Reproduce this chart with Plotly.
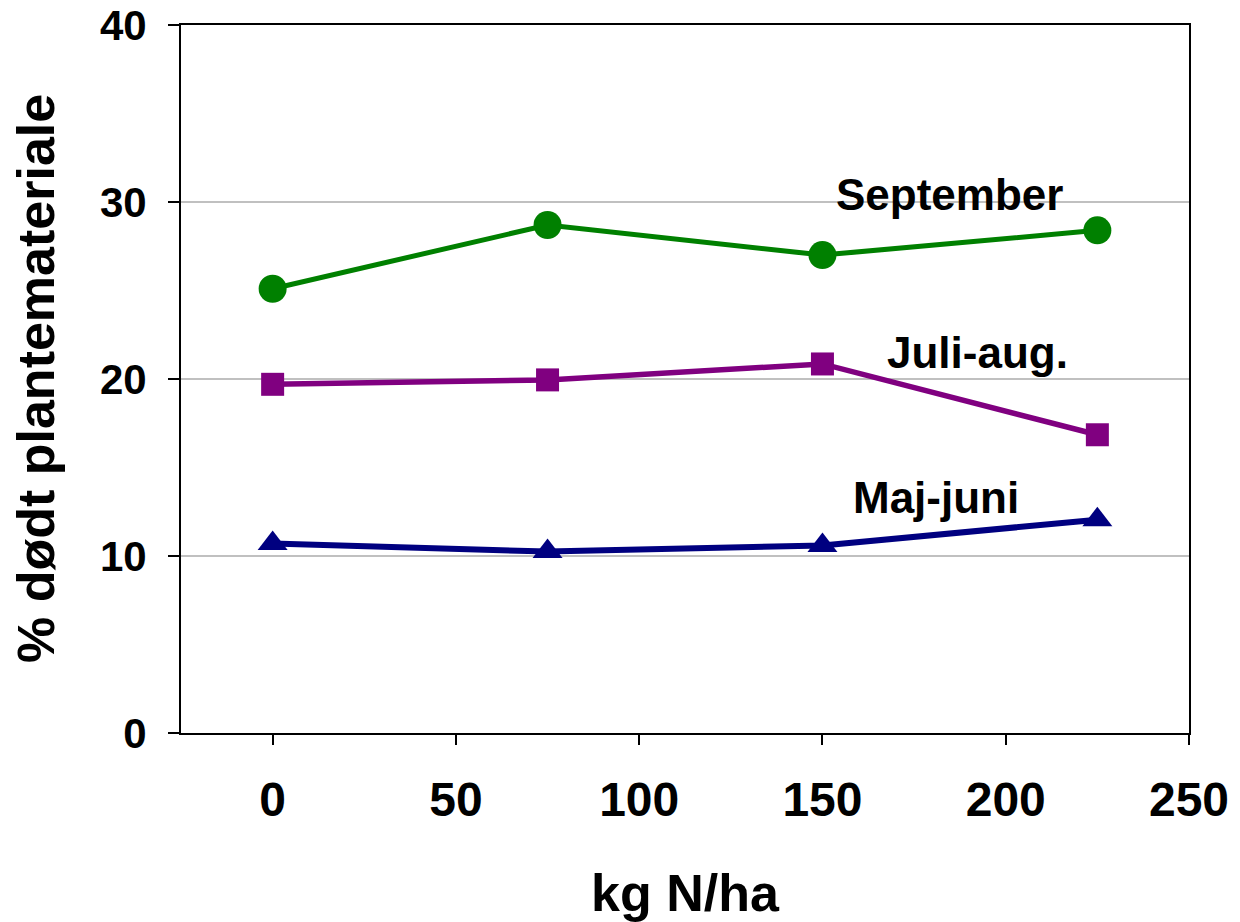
import plotly.graph_objects as go

n_levels = [0, 75, 150, 225]
september = [25.1, 28.7, 27.0, 28.4]
juli_aug = [19.7, 19.95, 20.85, 16.85]
maj_juni = [10.7, 10.25, 10.6, 12.05]

x_ticks = [0, 50, 100, 150, 200, 250]
y_ticks = [0, 10, 20, 30, 40]

FONT = "Liberation Sans, Arial, sans-serif"

fig = go.Figure()
fig.add_trace(go.Scatter(x=n_levels, y=september, mode="lines+markers", name="September",
                         line=dict(color="#008000", width=5),
                         marker=dict(symbol="circle", size=28, color="#008000")))
fig.add_trace(go.Scatter(x=n_levels, y=juli_aug, mode="lines+markers", name="Juli-aug.",
                         line=dict(color="#800080", width=5.5),
                         marker=dict(symbol="square", size=23, color="#800080")))
fig.add_trace(go.Scatter(x=n_levels, y=maj_juni, mode="lines+markers", name="Maj-juni",
                         line=dict(color="#000080", width=6),
                         marker=dict(symbol="triangle-up", size=26, color="#000080")))

labels = [("September", 184.7, 30.4), ("Juli-aug.", 192.3, 21.5), ("Maj-juni", 181.0, 13.3)]
for txt, ax, ay in labels:
    fig.add_annotation(x=ax, y=ay, text="<b>%s</b>" % txt, showarrow=False,
                       font=dict(family=FONT, size=44, color="black"))

# x title and y title as paper annotations for precise placement
fig.add_annotation(x=0.5, y=0, xref="paper", yref="paper", yanchor="middle",
                   yshift=-160, text="<b>kg N/ha</b>", showarrow=False,
                   font=dict(family=FONT, size=52, color="black"))
fig.add_annotation(x=0, y=0.5, xref="paper", yref="paper", xanchor="center",
                   xshift=-145, text="<b>% dødt plantemateriale</b>", showarrow=False,
                   textangle=-90, font=dict(family=FONT, size=52, color="black"))

fig.update_layout(
    width=1240, height=922,
    margin=dict(l=173, r=59, t=17, b=197),
    paper_bgcolor="white", plot_bgcolor="white",
    showlegend=False,
    font=dict(family=FONT, color="black"),
)
fig.update_xaxes(range=[-25, 250], tickvals=x_ticks, ticktext=["<b>%d</b>" % v for v in x_ticks],
                 tickfont=dict(family=FONT, size=48, color="black"),
                 showgrid=False, zeroline=False, automargin=False, ticklabeloverflow="allow",
                 showline=True, linecolor="black", linewidth=2, mirror=True,
                 ticks="outside", ticklen=10, tickwidth=2, tickcolor="black",
                 ticklabelstandoff=13)
fig.update_yaxes(range=[0, 40], tickvals=y_ticks, ticktext=["<b>%d</b>" % v for v in y_ticks],
                 tickfont=dict(family=FONT, size=42, color="black"),
                 showgrid=True, gridcolor="#c0c0c0", gridwidth=2, zeroline=False, automargin=False,
                 ticklabeloverflow="allow",
                 showline=True, linecolor="black", linewidth=2, mirror=True,
                 ticks="outside", ticklen=11, tickwidth=2, tickcolor="black",
                 ticklabelstandoff=13)

fig.write_html("out.html")
